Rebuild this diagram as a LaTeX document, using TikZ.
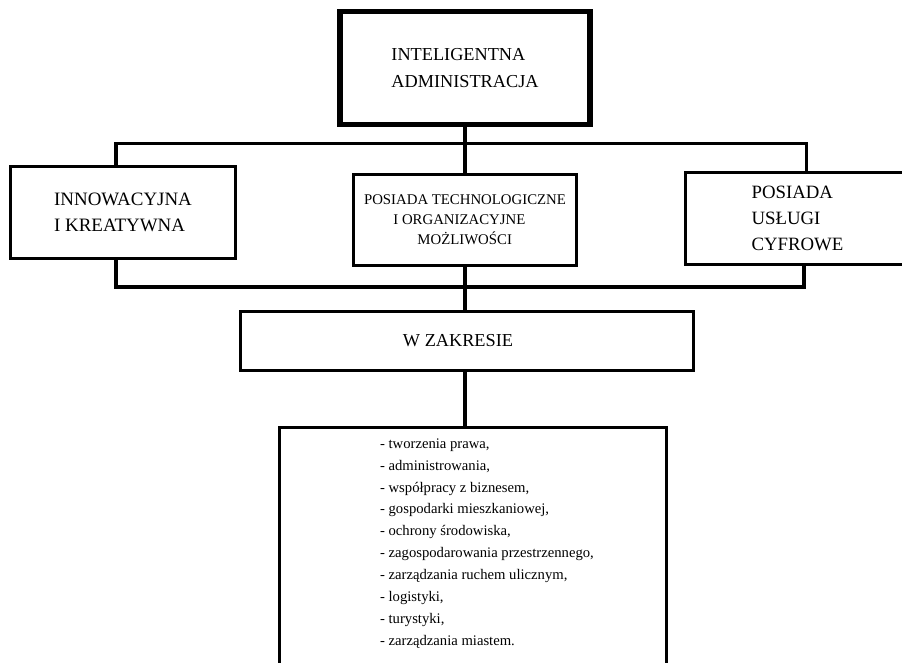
\documentclass[tikz,border=0pt]{standalone}
\usepackage{fontspec}
\setmainfont{Liberation Serif}
\usetikzlibrary{positioning, calc}

\begin{document}
\begin{tikzpicture}[x=0.75pt, y=-0.75pt,
      box/.style={draw, line width=2.3pt, align=left, inner sep=0pt},
      listbox/.style={draw, line width=2.3pt, inner sep=0pt, anchor=north,
        text height=16pt, text depth=180pt},
      bus/.style={line width=2.3pt}]
    \useasboundingbox (0,0) rectangle (902,662);
    \clip (0,0) rectangle (902,662);
    \node[box, line width=4.2pt, minimum width=187.5pt, minimum height=84.75pt,
      font=\fontsize{13.7}{20}\selectfont] (intel) at (465,68) {INTELIGENTNA\\ADMINISTRACJA};
    \node[box, minimum width=168.75pt, minimum height=69pt,
      font=\fontsize{14.2}{20}\selectfont] (innow) at (123,212.5) {INNOWACYJNA\\I KREATYWNA};
    \node[box, minimum width=167.25pt, minimum height=68.25pt,
      font=\fontsize{11.1}{15}\selectfont] (tech) at (465,220)
      {POSIADA TECHNOLOGICZNE\\\hspace*{22pt}I ORGANIZACYJNE\\\hspace*{40pt}MOŻLIWOŚCI};
    \node[box, minimum width=168pt, minimum height=69pt,
      font=\fontsize{14.1}{19.5}\selectfont] (cyfr) at (797.5,218.5) {POSIADA\\USŁUGI\\CYFROWE};
    \node[box, minimum width=339.75pt, minimum height=44.25pt,
      font=\fontsize{13.7}{20}\selectfont] (zakres) at (467,341) {W ZAKRESIE\hspace*{13.5pt}};
    \node[listbox, minimum width=290.25pt, font=\fontsize{11}{16.4}\selectfont] (obszary) at (473,425.5)
      {\hspace*{21pt}\begin{tabular}[t]{@{}l@{}}
        - tworzenia prawa,\\
        - administrowania,\\
        - współpracy z biznesem,\\
        - gospodarki mieszkaniowej,\\
        - ochrony środowiska,\\
        - zagospodarowania przestrzennego,\\
        - zarządzania ruchem ulicznym,\\
        - logistyki,\\
        - turystyki,\\
        - zarządzania miastem.
      \end{tabular}};
    \coordinate (tl) at (116,143.5);
    \coordinate (tr) at (806.5,143.5);
    \coordinate (bl) at (116,287);
    \coordinate (br) at (804,287);
    \draw[bus] (intel.south) -- (tech.north);
    \draw[bus] (innow.north -| tl) -- (tl) -- (tr) -- (cyfr.north -| tr);
    \draw[bus] (innow.south -| bl) -- (bl) -- (br) -- (cyfr.south -| br);
    \draw[bus] (tech.south) -- (zakres.north -| tech.south);
    \draw[bus] (zakres.south -| tech.south) -- (obszary.north -| tech.south);
  \end{tikzpicture}
\end{document}
